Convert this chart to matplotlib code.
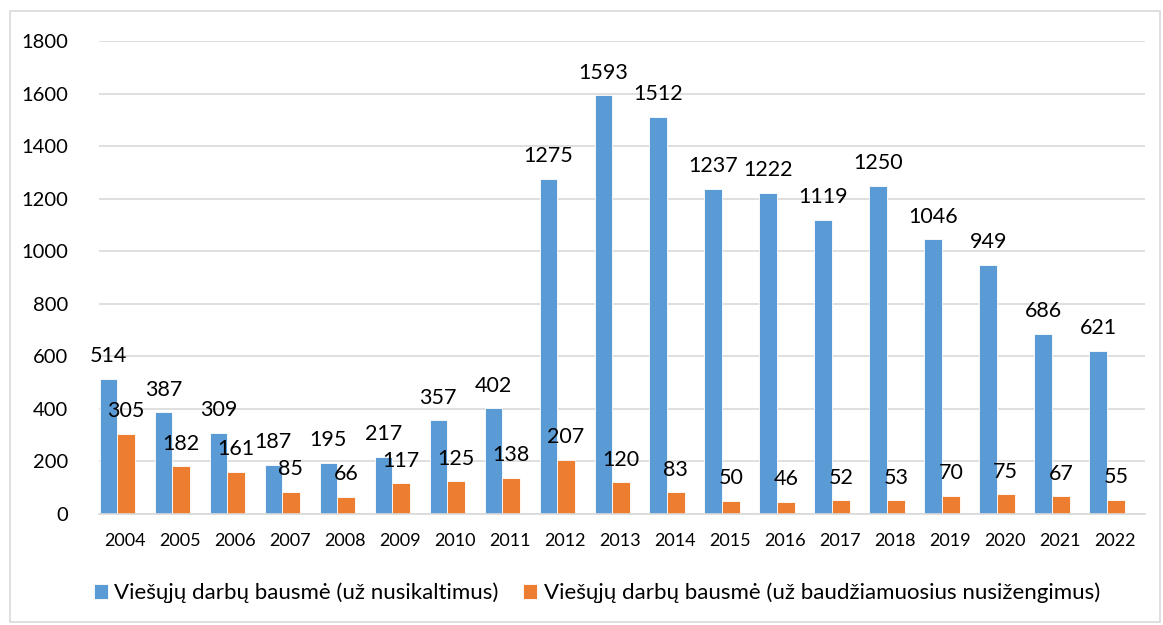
import numpy as np
import matplotlib.pyplot as plt
from matplotlib.patches import Rectangle

plt.rcParams['font.family'] = ['Lato', 'DejaVu Sans']

# Data
years = ['2004', '2005', '2006', '2007', '2008', '2009', '2010', '2011', '2012',
         '2013', '2014', '2015', '2016', '2017', '2018', '2019', '2020', '2021', '2022']
crimes = [514, 387, 309, 187, 195, 217, 357, 402, 1275,
          1593, 1512, 1237, 1222, 1119, 1250, 1046, 949, 686, 621]
misdemeanours = [305, 182, 161, 85, 66, 117, 125, 138, 207,
                 120, 83, 50, 46, 52, 53, 70, 75, 67, 55]
labels = ['Viešųjų darbų bausmė (už nusikaltimus)',
          'Viešųjų darbų bausmė (už baudžiamuosius nusižengimus)']

blue = '#5B9BD5'
orange = '#ED7D31'

fig = plt.figure(figsize=(11.63, 6.25), dpi=100)
ax = fig.add_axes([99 / 1163, 0.1776, 1046 / 1163, 0.7568])

x = np.arange(len(years))
w = 0.32
b1 = ax.bar(x - w / 2, crimes, w, color=blue, edgecolor='white', linewidth=0.6,
            label=labels[0], zorder=2)
b2 = ax.bar(x + w / 2, misdemeanours, w, color=orange, edgecolor='white', linewidth=0.6,
            label=labels[1], zorder=2)

ax.bar_label(b1, padding=9, fontsize=15.5, color='black')
ax.bar_label(b2, padding=9, fontsize=15.5, color='black')

ax.set_ylim(0, 1800)
ax.set_xlim(-0.33, 18.69)
ax.set_yticks(np.arange(0, 1801, 200))
ax.set_xticks(x + 0.15)
ax.set_xticklabels(years)
ax.tick_params(axis='y', length=0, pad=22, labelsize=14.5)
ax.tick_params(axis='x', length=0, pad=14, labelsize=13)
ax.yaxis.grid(True, color='#D9D9D9', linewidth=1.2, zorder=0)
ax.set_axisbelow(True)
for s in ['top', 'right', 'left']:
    ax.spines[s].set_visible(False)
ax.spines['bottom'].set_color('#D9D9D9')
ax.spines['bottom'].set_linewidth(1.2)

ax.legend(loc='center', bbox_to_anchor=(597 / 1163, 1 - 593 / 625), bbox_transform=fig.transFigure,
          ncol=2, frameon=False, fontsize=16, handlelength=0.62, handleheight=0.62,
          handletextpad=0.3, columnspacing=1.1)

# outer border
fig.patches.append(Rectangle((10 / 1163, 1 - 622 / 625), 1150 / 1163, 611 / 625,
                             transform=fig.transFigure, fill=False,
                             edgecolor='#D9D9D9', linewidth=1.2))

fig.savefig('out.png', dpi=100)
